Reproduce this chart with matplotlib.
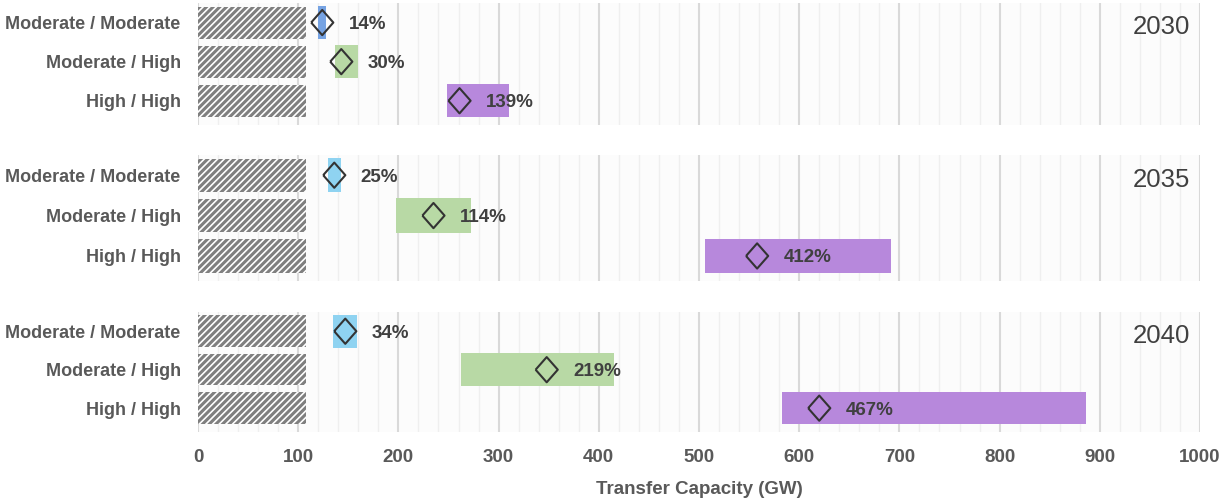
import matplotlib
matplotlib.use('Agg')
import matplotlib.pyplot as plt
from matplotlib.ticker import MultipleLocator

plt.rcParams['font.family'] = ['Liberation Sans', 'DejaVu Sans']
plt.rcParams['hatch.color'] = '#7f7f7f'
plt.rcParams['hatch.linewidth'] = 2.2

# data
years = ['2030', '2035', '2040']
scenarios = ['Moderate / Moderate', 'Moderate / High', 'High / High']
existing = 108  # hatched bar, GW
range_lo = {'2030': [120, 137, 249], '2035': [130, 198, 506], '2040': [135, 262, 583]}
range_hi = {'2030': [128, 160, 310], '2035': [143, 272, 692], '2040': [159, 415, 886]}
median = {'2030': [124, 143, 261], '2035': [136, 235, 558], '2040': [147, 348, 620]}
pct = {'2030': ['14%', '30%', '139%'], '2035': ['25%', '114%', '412%'], '2040': ['34%', '219%', '467%']}
colors = {'2030': ['#76a3e3', '#b8d9a5', '#b788dc'],
          '2035': ['#8fd3f1', '#b8d9a5', '#b788dc'],
          '2040': ['#8fd3f1', '#b8d9a5', '#b788dc']}

# slightly tall diamond, like the reference marker
diamond = [(-0.44, 0), (0, 0.5), (0.44, 0), (0, -0.5), (-0.44, 0)]

fig = plt.figure(figsize=(12.28, 5.04), dpi=100)

left, width = 198 / 1228, 1002 / 1228
panels = [(3, 125), (155, 281), (312, 432)]  # top/bottom in pixels

axes = []
for (top, bot), yr in zip(panels, years):
    ax = fig.add_axes([left, 1 - bot / 504, width, (bot - top) / 504])
    axes.append(ax)
    ax.set_facecolor('#fcfcfc')
    rows = range(len(scenarios))
    ax.barh(rows, [existing] * 3, height=0.82, color='white', hatch='/////',
            edgecolor='#7f7f7f', linewidth=0)
    lo = range_lo[yr]
    hi = range_hi[yr]
    ax.barh(rows, [h - l for l, h in zip(lo, hi)], left=lo, height=0.85,
            color=colors[yr], linewidth=0, zorder=2)
    ax.scatter(median[yr], rows, marker=diamond, s=330, facecolors='none',
               edgecolors='#333333', linewidths=1.5, zorder=3)
    for r, m, p in zip(rows, median[yr], pct[yr]):
        ax.annotate(p, (m, r), xytext=(19, 0), textcoords='offset points',
                    va='center_baseline', ha='left', fontsize=13.5,
                    fontweight='bold', color='#404040', zorder=4)
    ax.text(0.99, 0.8, yr, transform=ax.transAxes, ha='right', va='center',
            fontsize=18.5, color='#404040')

    ax.set_xlim(0, 1000)
    ax.set_ylim(2.62, -0.5)
    ax.xaxis.set_major_locator(MultipleLocator(100))
    ax.xaxis.set_minor_locator(MultipleLocator(20))
    ax.grid(which='major', axis='x', color='#d9d9d9', linewidth=1.5)
    ax.grid(which='minor', axis='x', color='#efefef', linewidth=1)
    ax.set_axisbelow(True)
    ax.set_yticks(list(rows))
    ax.set_yticklabels(scenarios, fontsize=13, fontweight='bold', color='#595959')
    ax.tick_params(axis='y', length=0, pad=12.5)
    ax.tick_params(axis='x', which='both', length=0)
    for s in ax.spines.values():
        s.set_visible(False)
    if yr != years[-1]:
        ax.set_xticklabels([])

ax = axes[-1]
ax.tick_params(axis='x', labelsize=13.5, labelcolor='#595959', pad=12)
for lab in ax.get_xticklabels():
    lab.set_fontweight('bold')
ax.set_xlabel('Transfer Capacity (GW)', fontsize=13.5, fontweight='bold',
              color='#595959', labelpad=11)

plt.savefig('out.png', dpi=100)
